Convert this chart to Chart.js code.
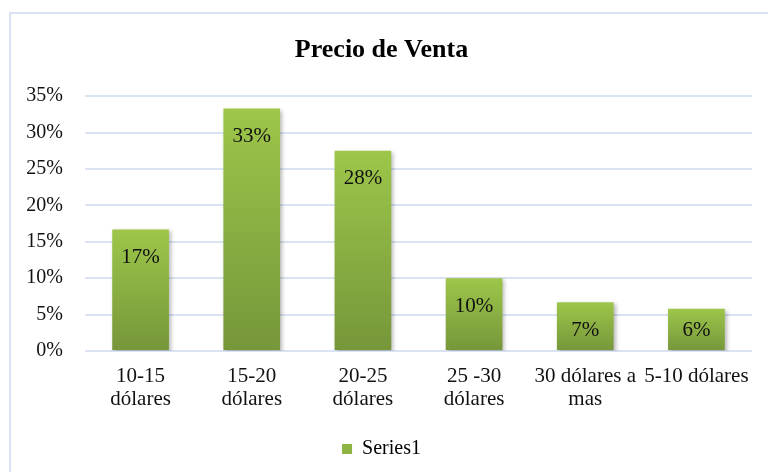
<!DOCTYPE html>
<html>
<head>
<meta charset="utf-8">
<script src="https://cdn.jsdelivr.net/npm/chart.js@4/dist/chart.umd.min.js"></script>
<style>
  html, body { margin: 0; padding: 0; background: #fff; overflow: hidden; }
  #box {
    position: absolute; left: 9px; top: 12px;
    width: 776px; height: 462px;
    border-left: 2px solid #dae3f3; border-top: 2px solid #dae3f3;
  }
  #chart { display: block; }
</style>
</head>
<body>
<div id="box"><canvas id="chart" width="776" height="462"></canvas></div>
<script>
const categories = [
  ["10-15", "dólares"],
  ["15-20", "dólares"],
  ["20-25", "dólares"],
  ["25 -30", "dólares"],
  ["30 dólares a", "mas"],
  "5-10 dólares"
];
const seriesName = "Series1";
const values = [16.7, 33.3, 27.5, 10.0, 6.7, 5.8];
const yTicks = [0, 5, 10, 15, 20, 25, 30, 35];

const FONT = "'Liberation Serif', 'Times New Roman', serif";

function barGradient(context) {
  const chart = context.chart;
  const { ctx, chartArea, scales } = chart;
  if (!chartArea || context.dataIndex === undefined || !scales.y) return "#8db443";
  const top = scales.y.getPixelForValue(values[context.dataIndex]);
  const base = scales.y.getPixelForValue(0);
  const g = ctx.createLinearGradient(0, top, 0, base);
  g.addColorStop(0, "#9dc64a");
  g.addColorStop(1, "#76963a");
  return g;
}

const shadowPlugin = {
  id: "shadow",
  beforeDatasetsDraw(chart) {
    const ctx = chart.ctx;
    ctx.save();
    ctx.shadowColor = "rgba(0,0,0,0.28)";
    ctx.shadowBlur = 4;
    ctx.shadowOffsetX = 2;
    ctx.shadowOffsetY = 2;
  },
  afterDatasetsDraw(chart) {
    chart.ctx.restore();
  }
};

const labelPlugin = {
  id: "valueLabels",
  afterDatasetsDraw(chart) {
    const ctx = chart.ctx;
    const meta = chart.getDatasetMeta(0);
    const base = chart.scales.y.getPixelForValue(0);
    ctx.save();
    ctx.font = "21px " + FONT;
    ctx.fillStyle = "#111";
    ctx.textAlign = "center";
    ctx.textBaseline = "middle";
    meta.data.forEach((bar, i) => {
      const y = Math.min(bar.y + 28, base - 21);
      ctx.fillText(Math.round(values[i]) + "%", bar.x, y);
    });
    ctx.restore();
  }
};

new Chart(document.getElementById("chart"), {
  type: "bar",
  data: {
    labels: categories,
    datasets: [{
      label: seriesName,
      data: values,
      backgroundColor: barGradient,
      borderWidth: 0,
      barPercentage: 1,
      categoryPercentage: 0.51
    }]
  },
  options: {
    responsive: false,
    animation: false,
    layout: { padding: { left: 0, right: 35, top: 0, bottom: 7 } },
    plugins: {
      title: {
        display: true,
        text: "Precio de Venta",
        color: "#000",
        font: { family: FONT, size: 26, weight: "bold", lineHeight: 1.2 },
        padding: { top: 21, bottom: 30 }
      },
      legend: {
        position: "bottom",
        labels: {
          color: "#111",
          font: { family: FONT, size: 20 },
          boxWidth: 10,
          boxHeight: 10,
          padding: 10,
          generateLabels: () => [{ text: seriesName, fillStyle: "#8db443", strokeStyle: "#8db443", lineWidth: 0 }]
        }
      },
      tooltip: { enabled: false }
    },
    scales: {
      x: {
        grid: { display: false },
        border: { display: false },
        ticks: {
          color: "#111",
          font: { family: FONT, size: 21, lineHeight: 1.1 },
          padding: 6,
          maxRotation: 0,
          autoSkip: false
        },
        afterFit(scale) { scale.height = 78; }
      },
      y: {
        min: 0,
        max: 35,
        afterBuildTicks(scale) { scale.ticks = yTicks.map(v => ({ value: v })); },
        grid: { color: "#d9e3f2", lineWidth: 2, drawTicks: false },
        border: { display: false },
        ticks: {
          color: "#111",
          font: { family: FONT, size: 20 },
          padding: 22,
          callback: v => v + "%"
        },
        afterFit(scale) { scale.width = 74; }
      }
    }
  },
  plugins: [shadowPlugin, labelPlugin]
});
</script>
</body>
</html>
